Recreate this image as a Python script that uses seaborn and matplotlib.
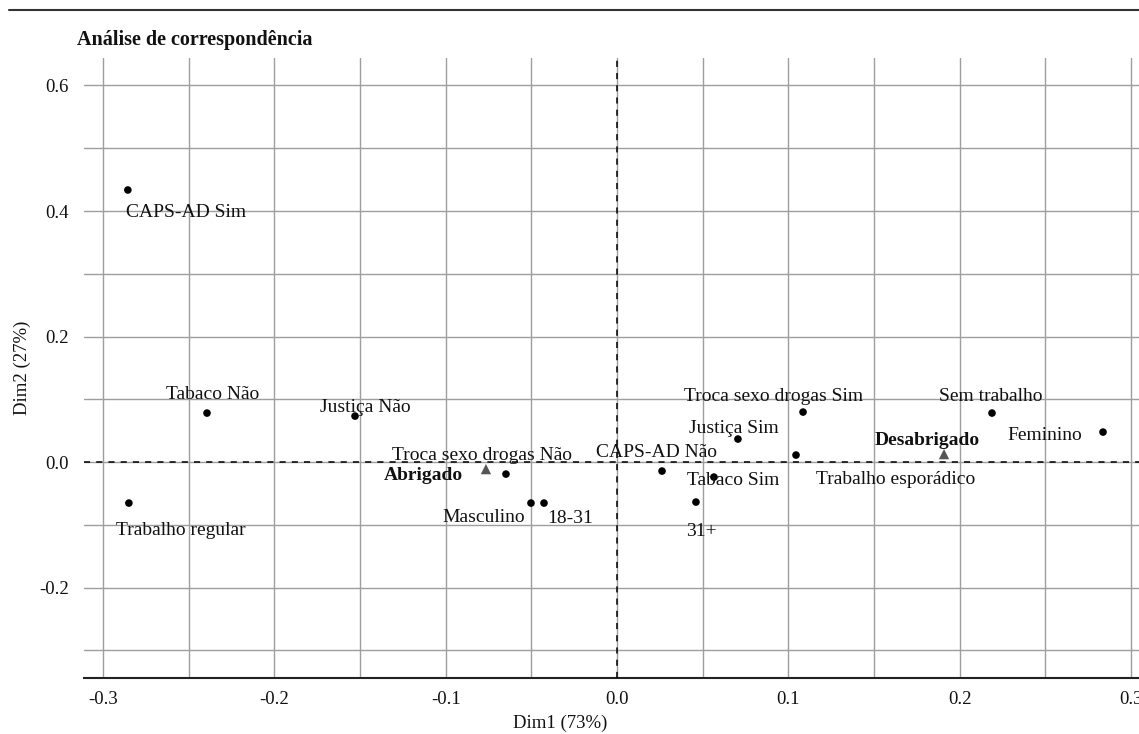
import matplotlib.pyplot as plt
import numpy as np
import pandas as pd
import seaborn as sns
from matplotlib.lines import Line2D
from matplotlib.ticker import MultipleLocator

# category points (column profiles)
cat_labels = ["CAPS-AD Sim", "Tabaco Não", "Justiça Não", "Trabalho regular",
              "Troca sexo drogas Não", "Masculino", "18-31", "CAPS-AD Não",
              "Tabaco Sim", "31+", "Justiça Sim", "Troca sexo drogas Sim",
              "Trabalho esporádico", "Sem trabalho", "Feminino"]
cat_dim1 = [-0.2855, -0.2393, -0.1529, -0.2849, -0.0648, -0.0502, -0.0426, 0.0263,
            0.0566, 0.0461, 0.0706, 0.1086, 0.1045, 0.2189, 0.2837]
cat_dim2 = [0.4335, 0.0781, 0.0733, -0.0653, -0.0191, -0.0653, -0.0653, -0.0143,
            -0.0239, -0.0637, 0.0367, 0.0797, 0.0112, 0.0781, 0.0478]
# label offsets in pixels (dx, dy, ha)
cat_offsets = [(-2, -23, "left"), (6, 19, "center"), (10, 9, "center"), (-13, -27, "left"),
               (-24, 19, "center"), (-6, -14, "right"), (26, -15, "center"), (-6, 19, "center"),
               (19, -3, "center"), (5, -29, "center"), (-4, 11, "center"), (-29, 16, "center"),
               (100, -24, "center"), (-1, 17, "center"), (-58, -3, "center")]

# row points (groups)
grp_labels = ["Abrigado", "Desabrigado"]
grp_dim1 = [-0.0765, 0.1909]
grp_dim2 = [-0.0112, 0.0127]
grp_offsets = [(-23, -6, "right"), (-17, 14, "center")]

cats = pd.DataFrame({"Dim1": cat_dim1, "Dim2": cat_dim2, "label": cat_labels})
grps = pd.DataFrame({"Dim1": grp_dim1, "Dim2": grp_dim2, "label": grp_labels})

sns.set_theme(style="whitegrid")
plt.rcParams["font.family"] = ["Liberation Serif", "DejaVu Serif"]

fig = plt.figure(figsize=(11.39, 7.34), dpi=100)
ax = fig.add_axes([84 / 1139, 1 - 678 / 734, 1 - 84 / 1139, (678 - 58) / 734])

sns.scatterplot(data=cats, x="Dim1", y="Dim2", ax=ax, color="black", s=30,
                edgecolor="none", zorder=4)
sns.scatterplot(data=grps, x="Dim1", y="Dim2", ax=ax, color="#555555", marker="^",
                s=55, edgecolor="none", zorder=4)

for (_, r), (dx, dy, ha) in zip(cats.iterrows(), cat_offsets):
    ax.annotate(r["label"], (r["Dim1"], r["Dim2"]), xytext=(dx, dy), textcoords="offset pixels",
                ha=ha, va="center", fontsize=14, color="#111111", zorder=5)
for (_, r), (dx, dy, ha) in zip(grps.iterrows(), grp_offsets):
    ax.annotate(r["label"], (r["Dim1"], r["Dim2"]), xytext=(dx, dy), textcoords="offset pixels",
                ha=ha, va="center", fontsize=14, fontweight="bold", color="#111111", zorder=5)

ax.axhline(0, color="black", ls=(0, (4, 4)), lw=1.1, zorder=3)
ax.axvline(0, color="black", ls=(0, (4, 4)), lw=1.1, zorder=3)

ax.set_xlim(-0.3111, 0.3047)
ax.set_ylim(-0.344, 0.6438)
ax.xaxis.set_major_locator(MultipleLocator(0.1))
ax.xaxis.set_minor_locator(MultipleLocator(0.05))
ax.yaxis.set_major_locator(MultipleLocator(0.2))
ax.yaxis.set_minor_locator(MultipleLocator(0.1))
ax.set_xticks(np.round(np.arange(-0.3, 0.31, 0.1), 1))
ax.set_xticklabels([f"{v:.1f}" for v in np.round(np.arange(-0.3, 0.31, 0.1), 1)])
ax.set_yticklabels([f"{v:.1f}" for v in ax.get_yticks()])
ax.grid(which="both", color="#9e9e9e", lw=1.0)
ax.tick_params(which="both", length=0, labelsize=13.5, colors="#111111")
ax.tick_params(axis="y", pad=11)
ax.tick_params(axis="x", pad=9)

for side in ["left", "right", "top"]:
    ax.spines[side].set_visible(False)
ax.spines["bottom"].set_color("#222222")
ax.spines["bottom"].set_linewidth(1.5)

ax.set_xlabel("Dim1 (73%)", fontsize=13.5, color="#111111")
ax.set_ylabel("Dim2 (27%)", fontsize=13.5, color="#111111")
ax.xaxis.set_label_coords((560 - 84) / 1055, -(715 - 678) / 620)
ax.yaxis.set_label_coords(-(84 - 31) / 1055, 0.5)

fig.text(77 / 1139, 1 - 40 / 734, "Análise de correspondência", fontsize=14.5,
         fontweight="bold", va="center", color="#111111")
fig.add_artist(Line2D([9 / 1139, 1], [1 - 10 / 734] * 2, color="#333333", lw=1.5))

fig.savefig("out.png", dpi=100)
